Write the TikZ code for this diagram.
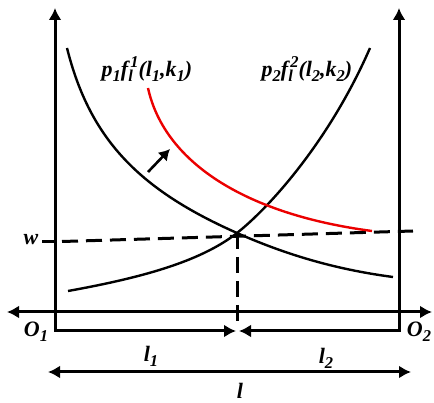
\documentclass[tikz,border=0pt]{standalone}
\usepackage{fontspec}
\setmainfont{Liberation Serif}
\usetikzlibrary{arrows.meta}
\newcommand{\lab}[1]{\textbf{\textit{#1}}}
\newcommand{\lo}[1]{\raisebox{-0.22em}{\fontsize{16.5}{16}\selectfont #1}}
\newcommand{\hi}[1]{\raisebox{0.45em}{\fontsize{16.5}{16}\selectfont #1}}
\newcommand{\lohi}[2]{\lo{#1}\kern-0.12em\hi{#2}}
\definecolor{shiftred}{RGB}{235,0,0}

\begin{document}
\begin{tikzpicture}[
  x=1pt,y=-1pt,
  font=\fontsize{22}{24}\selectfont,
  axis/.style={line width=3pt,{Latex[length=12pt,width=13pt]}-{Latex[length=12pt,width=13pt]}},
  curve/.style={line width=2.4pt},
  guide/.style={line width=3pt,dash pattern=on 16pt off 8pt},
  tag/.style={inner sep=0pt,anchor=base}
]
\useasboundingbox (0,0) rectangle (434,403);

% Origins and axes.
\coordinate (O1) at (55,331);
\coordinate (O2) at (399,331);
\coordinate (top1) at (55,8);
\coordinate (top2) at (399,8);
\coordinate (meetL) at (236,331);
\coordinate (meetR) at (239,331);
\draw[axis] (top1) -- (O1) -- (meetL);
\draw[axis] (top2) -- (O2) -- (meetR);

\coordinate (farL) at (7,312);
\coordinate (farR) at (432,312);
\draw[axis] (farL) -- (farR);

\coordinate (totL) at (48,372);
\coordinate (totR) at (411,372);
\draw[axis] (totL) -- (totR);

% Wage line and equilibrium.
\coordinate (cross) at (237,233);
\coordinate (wTick) at (42,241.5);
\coordinate (wStart) at (62,241.5);
\coordinate (wEnd) at (413,231);
\coordinate (foot) at (237,326);
\draw[line width=3pt] (wTick) -- (O1 |- wTick);
\draw[guide] (wStart) -- (wEnd);
\draw[guide] (cross) -- (foot);

% Marginal value curves.
\draw[curve] (67,48) .. controls (90,140) and (140,190) .. (cross)
  .. controls (290,256.5) and (340,270) .. (393,277);
\draw[curve] (68,291) .. controls (140,278) and (200,262) .. (cross)
  .. controls (270,207) and (330,140) .. (370,48);
\draw[curve,shiftred] (148,88) .. controls (165,165) and (250,215) .. (372,231);

% Shift arrow.
\coordinate (shiftA) at (148,172);
\coordinate (shiftB) at (170,149);
\draw[line width=2.6pt,-{Latex[length=11pt,width=13pt]}] (shiftA) -- (shiftB);

% Labels.
\node[tag] (lblA) at (147,77) {\lab{p\lo{1}f\lohi{l}{1}(l\lo{1},k\lo{1})}};
\node[tag] (lblB) at (307,77) {\lab{p\lo{2}f\lohi{l}{2}(l\lo{2},k\lo{2})}};
\node[tag] (wLab) at (31,245) {\lab{w}};
\node[tag] (o1Lab) at (36,337) {\lab{O\lo{1}}};
\node[tag] (o2Lab) at (419,337) {\lab{O\lo{2}}};
\node[tag] (l1Lab) at (151,362) {\lab{l\lo{1}}};
\node[tag] (l2Lab) at (326,364) {\lab{l\lo{2}}};
\node[tag] (lLab) at (240,399) {\lab{l}};
\end{tikzpicture}
\end{document}
